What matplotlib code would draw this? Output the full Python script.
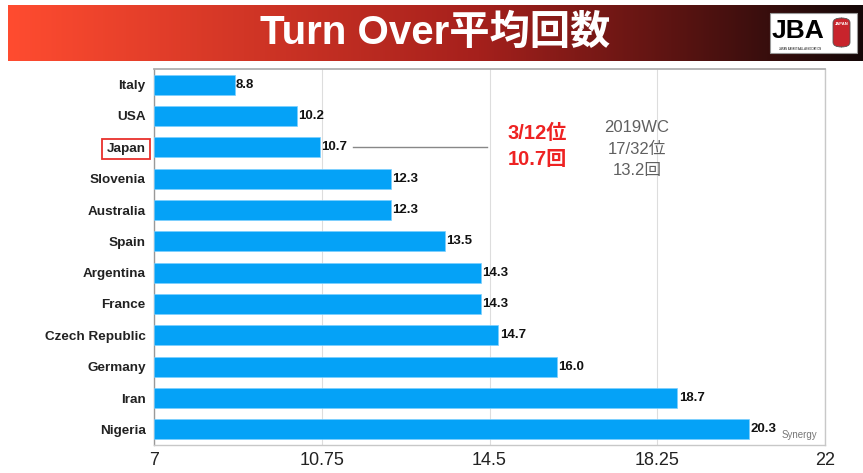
import numpy as np
import matplotlib
matplotlib.use("Agg")
import matplotlib.pyplot as plt
from matplotlib.patches import Rectangle, FancyBboxPatch

countries = ["Italy", "USA", "Japan", "Slovenia", "Australia", "Spain",
             "Argentina", "France", "Czech Republic", "Germany", "Iran", "Nigeria"]
values = [8.8, 10.2, 10.7, 12.3, 12.3, 13.5, 14.3, 14.3, 14.7, 16.0, 18.7, 20.3]
xticks = [7, 10.75, 14.5, 18.25, 22]
xtick_labels = ["7", "10.75", "14.5", "18.25", "22"]
title = "Turn Over平均回数"
japan_note = "3/12位\n10.7回"
wc_note = "2019WC\n17/32位\n13.2回"

FAM = ["Liberation Sans", "Noto Sans CJK JP", "DejaVu Sans"]
plt.rcParams['font.family'] = FAM

W, H = 863, 473
fig = plt.figure(figsize=(W / 100, H / 100), dpi=100)

# Banner with gradient
bx = fig.add_axes([8 / W, 1 - 61 / H, 1 - 8 / W, 56 / H])
bx.set_axis_off()
c0 = np.array([255, 76, 48]) / 255
c1 = np.array([165, 32, 28]) / 255
c2 = np.array([20, 8, 8]) / 255
t = np.linspace(0, 1, 400)
grad = np.zeros((1, 400, 3))
for i, tt in enumerate(t):
    if tt < 0.55:
        grad[0, i] = c0 + (c1 - c0) * (tt / 0.55)
    else:
        grad[0, i] = c1 + (c2 - c1) * ((tt - 0.55) / 0.45)
bx.imshow(grad, aspect='auto', extent=[0, 1, 0, 1])
bx.set_xlim(0, 1)
bx.set_ylim(0, 1)
fig.text(435 / W, 1 - 33 / H, title, color="white", fontsize=29, fontweight="bold",
         ha="center", va="center", family=FAM)
# logo
fig.patches.append(Rectangle((770 / W, 1 - 53 / H), 87 / W, 40 / H, transform=fig.transFigure,
                             facecolor="white", edgecolor="#999999", lw=0.8))
fig.text(798 / W, 1 - 31 / H, "JBA", fontsize=19, fontweight="bold", color="black",
         ha="center", va="center", family=FAM)
fig.text(800 / W, 1 - 48.5 / H, "JAPAN BASKETBALL ASSOCIATION", fontsize=1.8, color="black",
         ha="center", va="center")
fig.patches.append(FancyBboxPatch((833 / W, 1 - 47 / H), 17 / W, 29 / H, transform=fig.transFigure,
                                  boxstyle="round,pad=0,rounding_size=0.01",
                                  facecolor="#c8242c", edgecolor="#555555", lw=0.6))
fig.text(841.5 / W, 1 - 24 / H, "JAPAN", fontsize=3, fontweight="bold", color="white",
         ha="center", va="center")

ax = fig.add_axes([154 / W, 28 / H, 671 / W, 376 / H])
y = np.arange(len(countries))
ax.barh(y, [v - 7 for v in values], left=7, height=0.64, color="#05a2f7",
        edgecolor="#7ccfff", lw=0.5, zorder=3)
ax.set_ylim(len(countries) - 0.5, -0.5)
ax.set_xlim(7, 22)
ax.set_xticks(xticks)
ax.set_xticklabels(xtick_labels, fontsize=13, color="#222222")
ax.set_yticks(y)
ax.set_yticklabels(countries, fontsize=9.7, fontweight="bold", color="#222222")
ax.tick_params(axis="both", length=0)
ax.tick_params(axis="x", pad=5)
ax.tick_params(axis="y", pad=6)
ax.grid(axis="x", color="#dddddd", lw=0.8, zorder=0)
for s in ax.spines.values():
    s.set_color("#c8c8c8")
    s.set_linewidth(1)
ax.spines["top"].set_color("#b0b0b0")
ax.spines["top"].set_linewidth(1.3)
ax.spines["left"].set_color("#999999")

for yi, v in zip(y, values):
    ax.text(v + 0.03, yi, f"{v:.1f}", fontsize=9.5, fontweight="bold", va="center",
            ha="left", color="#111111", zorder=4)

# Japan label box
ji = countries.index("Japan")
lbl = ax.get_yticklabels()[ji]
lbl.set_bbox(dict(facecolor="none", edgecolor="#e8302c", lw=1.3, pad=3))

# annotation line from Japan value
ax.plot([10.7 + 0.75, 14.45], [ji, ji], color="#888888", lw=1, zorder=4)
ax.text(15.57, 1.97, japan_note, color="#ee2222", fontsize=14.5, fontweight="bold",
        ha="center", va="center", linespacing=1.5)
ax.text(17.8, 2.05, wc_note, color="#606060", fontsize=12,
        ha="center", va="center", linespacing=1.5)
ax.text(21.03, len(countries) - 1 + 0.17, "Synergy", color="#777777", fontsize=7,
        ha="left", va="center")

fig.savefig("out.png", dpi=100)
